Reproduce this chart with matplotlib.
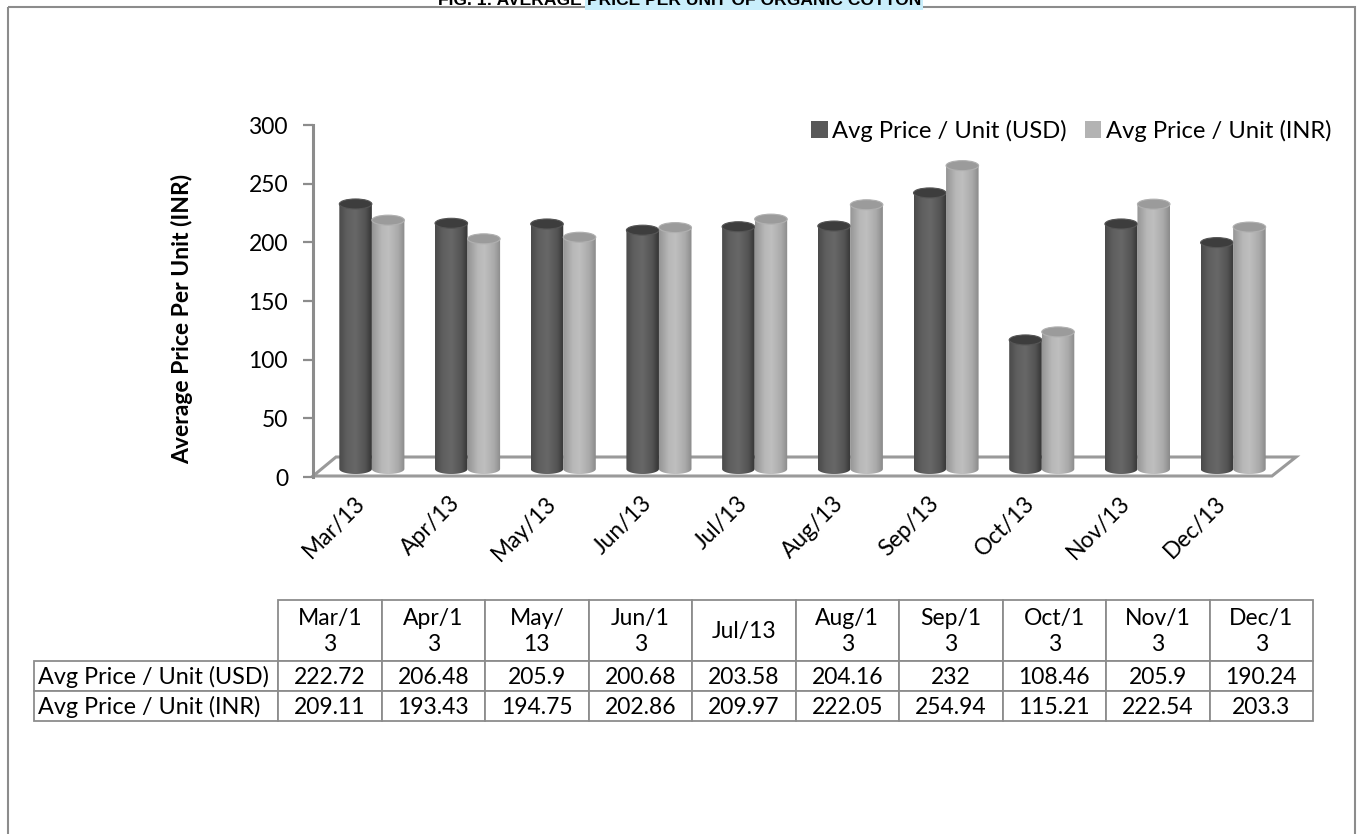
import numpy as np
import matplotlib
matplotlib.use("Agg")
import matplotlib.pyplot as plt
from matplotlib.patches import Rectangle, Ellipse, PathPatch, Polygon, Patch
from matplotlib.path import Path
from matplotlib.transforms import ScaledTranslation

# ---------------- data ----------------
categories = ["Mar/13", "Apr/13", "May/13", "Jun/13", "Jul/13",
              "Aug/13", "Sep/13", "Oct/13", "Nov/13", "Dec/13"]
header_labels = ["Mar/1\n3", "Apr/1\n3", "May/\n13", "Jun/1\n3", "Jul/13",
                 "Aug/1\n3", "Sep/1\n3", "Oct/1\n3", "Nov/1\n3", "Dec/1\n3"]
usd = [222.72, 206.48, 205.9, 200.68, 203.58, 204.16, 232, 108.46, 205.9, 190.24]
inr = [209.11, 193.43, 194.75, 202.86, 209.97, 222.05, 254.94, 115.21, 222.54, 203.3]
series_names = ["Avg Price / Unit (USD)", "Avg Price / Unit (INR)"]
y_ticks = [0, 50, 100, 150, 200, 250, 300]
y_label = "Average Price Per Unit (INR)"
title_plain = "FIG. 1: AVERAGE "
title_high = "PRICE PER UNIT OF ORGANIC COTTON"

FONT = "Lato"
plt.rcParams["font.family"] = [FONT, "DejaVu Sans"]
FS = 16.5

W, H = 1362, 834
fig = plt.figure(figsize=(W / 100, H / 100), dpi=100)
fig.patch.set_facecolor("white")


def px_rect(x0, y0, x1, y1):
    return [x0 / W, 1 - y1 / H, (x1 - x0) / W, (y1 - y0) / H]


GRAY = "#8c8c8c"

# ---------------- decoration layer ----------------
deco = fig.add_axes([0, 0, 1, 1], zorder=0)
deco.set_xlim(0, W)
deco.set_ylim(H, 0)
deco.axis("off")
deco.add_patch(Rectangle((8, 7), 1347, 850, fill=False, edgecolor=GRAY, lw=1.5))
# floor of the 3-D plot
deco.add_patch(Polygon([(313, 476), (1272, 476), (1296, 457), (336, 457)],
                       closed=True, facecolor="white", edgecolor="#9a9a9a", lw=2.2))

# title (cut off at the top edge, as in the reference)
TFAM = ["Liberation Sans", "DejaVu Sans"]
t1 = fig.text(438 / W, 1 - 5 / H, title_plain, fontsize=12.6, fontweight="bold",
              ha="left", va="baseline", family=TFAM)
fig.canvas.draw()
bb = t1.get_window_extent()
fig.text(bb.x1 / W, 1 - 5 / H, title_high, fontsize=12.6, fontweight="bold",
         ha="left", va="baseline", family=TFAM,
         bbox=dict(facecolor="#c9eefb", edgecolor="none", pad=1.5))

# ---------------- value axis ----------------
ax = fig.add_axes(px_rect(313, 125, 1296, 477), zorder=1)
ax.set_facecolor("none")
ax.set_ylim(0, 300)
ax.set_xlim(0, 1)
ax.set_yticks(y_ticks)
ax.set_xticks([])
for s in ["top", "right", "bottom"]:
    ax.spines[s].set_visible(False)
ax.spines["left"].set_color(GRAY)
ax.spines["left"].set_linewidth(2.2)
ax.tick_params(axis="y", direction="out", length=7, width=1.6, color=GRAY,
               labelsize=FS, pad=11)
ax.set_ylabel(y_label, fontsize=FS, fontweight="bold")
ax.yaxis.set_label_coords(-120 / 983, 0.45)

# ---------------- bars (cylinders) ----------------
bx = fig.add_axes(px_rect(324, 110, 1281, 477), zorder=2)
bx.set_facecolor("none")
YLO, YHI = -8 / 1.19, 359 / 1.19
XLO, XHI = -0.5, 9.5
for s in bx.spines.values():
    s.set_visible(False)
bx.set_yticks([])

bar_w = 0.34
cap_h = 10 / 1.19


def grad_image(stops):
    pos = np.array([p for p, _ in stops])
    cols = np.array([matplotlib.colors.to_rgb(c) for _, c in stops])
    xs = np.linspace(0, 1, 80)
    img = np.stack([np.interp(xs, pos, cols[:, k]) for k in range(3)], axis=-1)
    return img[np.newaxis, :, :]


usd_grad = grad_image([(0, "#4a4a4a"), (0.25, "#606060"), (0.5, "#676767"),
                       (0.8, "#545454"), (1, "#353535")])
inr_grad = grad_image([(0, "#959595"), (0.3, "#b8b8b8"), (0.5, "#bfbfbf"),
                       (0.8, "#aaaaaa"), (1, "#8a8a8a")])


def cylinder(xc, h, img, cap_color, rim_color, z):
    x0, x1 = xc - bar_w / 2, xc + bar_w / 2
    t = np.linspace(np.pi, 2 * np.pi, 40)
    verts = [(x0, h), (x0, 0)]
    verts += [(xc + bar_w / 2 * np.cos(tt), cap_h / 2 * np.sin(tt)) for tt in t]
    verts += [(x1, h), (x0, h)]
    codes = [Path.MOVETO] + [Path.LINETO] * (len(verts) - 2) + [Path.CLOSEPOLY]
    clip = PathPatch(Path(verts, codes), transform=bx.transData,
                     facecolor="none", edgecolor="none")
    bx.add_patch(clip)
    im = bx.imshow(img, extent=[x0, x1, -cap_h / 2, h], aspect="auto",
                   interpolation="bilinear", zorder=z)
    im.set_clip_path(clip)
    bx.add_patch(Ellipse((xc, h), bar_w, cap_h, facecolor=cap_color,
                         edgecolor=rim_color, lw=0.8, zorder=z + 0.5))


for i in range(len(categories)):
    cylinder(i - bar_w / 2, usd[i], usd_grad, "#3d3d3d", "#555555", 3 + i * 0.01)
    cylinder(i + bar_w / 2, inr[i], inr_grad, "#9b9b9b", "#b0b0b0", 4 + i * 0.01)

bx.set_xlim(XLO, XHI)
bx.set_ylim(YLO, YHI)
bx.set_xticks(range(len(categories)))
bx.set_xticklabels(categories, rotation=45, ha="right", rotation_mode="anchor",
                   fontsize=FS)
bx.tick_params(axis="x", length=0, pad=11)
shift = ScaledTranslation(-18 / 100, 0, fig.dpi_scale_trans)
for lab in bx.get_xticklabels():
    lab.set_transform(lab.get_transform() + shift)

# legend
handles = [Patch(facecolor="#595959", edgecolor="none"),
           Patch(facecolor="#b3b3b3", edgecolor="none")]
fig.legend(handles, series_names, loc="center left",
           bbox_to_anchor=(811 / W, 1 - 131 / H), ncol=2, frameon=False,
           fontsize=17.1, handlelength=0.7, handleheight=0.7,
           handletextpad=0.2, columnspacing=0.75, borderpad=0, borderaxespad=0)

# ---------------- data table (drawn cell by cell) ----------------
lab_x0, data_x0, col_w = 34, 278, 103.5
hdr_top, hdr_bot = 600, 661
row_h = 30
for j, lab in enumerate(header_labels):
    x = data_x0 + j * col_w
    deco.add_patch(Rectangle((x, hdr_top), col_w, hdr_bot - hdr_top,
                             facecolor="white", edgecolor=GRAY, lw=1.3))
    deco.text(x + col_w / 2, (hdr_top + hdr_bot) / 2 + 1, lab, ha="center",
              va="center", fontsize=FS, linespacing=1.35)
for r, (name, vals) in enumerate(zip(series_names, [usd, inr])):
    y = hdr_bot + r * row_h
    deco.add_patch(Rectangle((lab_x0, y), data_x0 - lab_x0, row_h,
                             facecolor="white", edgecolor=GRAY, lw=1.3))
    deco.text(lab_x0 + 4, y + row_h / 2 + 1, name, ha="left", va="center",
              fontsize=16.8)
    for j, v in enumerate(vals):
        x = data_x0 + j * col_w
        deco.add_patch(Rectangle((x, y), col_w, row_h, facecolor="white",
                                 edgecolor=GRAY, lw=1.3))
        deco.text(x + col_w / 2, y + row_h / 2 + 1, f"{v:g}", ha="center",
                  va="center", fontsize=FS)

fig.savefig("out.png", dpi=100, facecolor="white")
